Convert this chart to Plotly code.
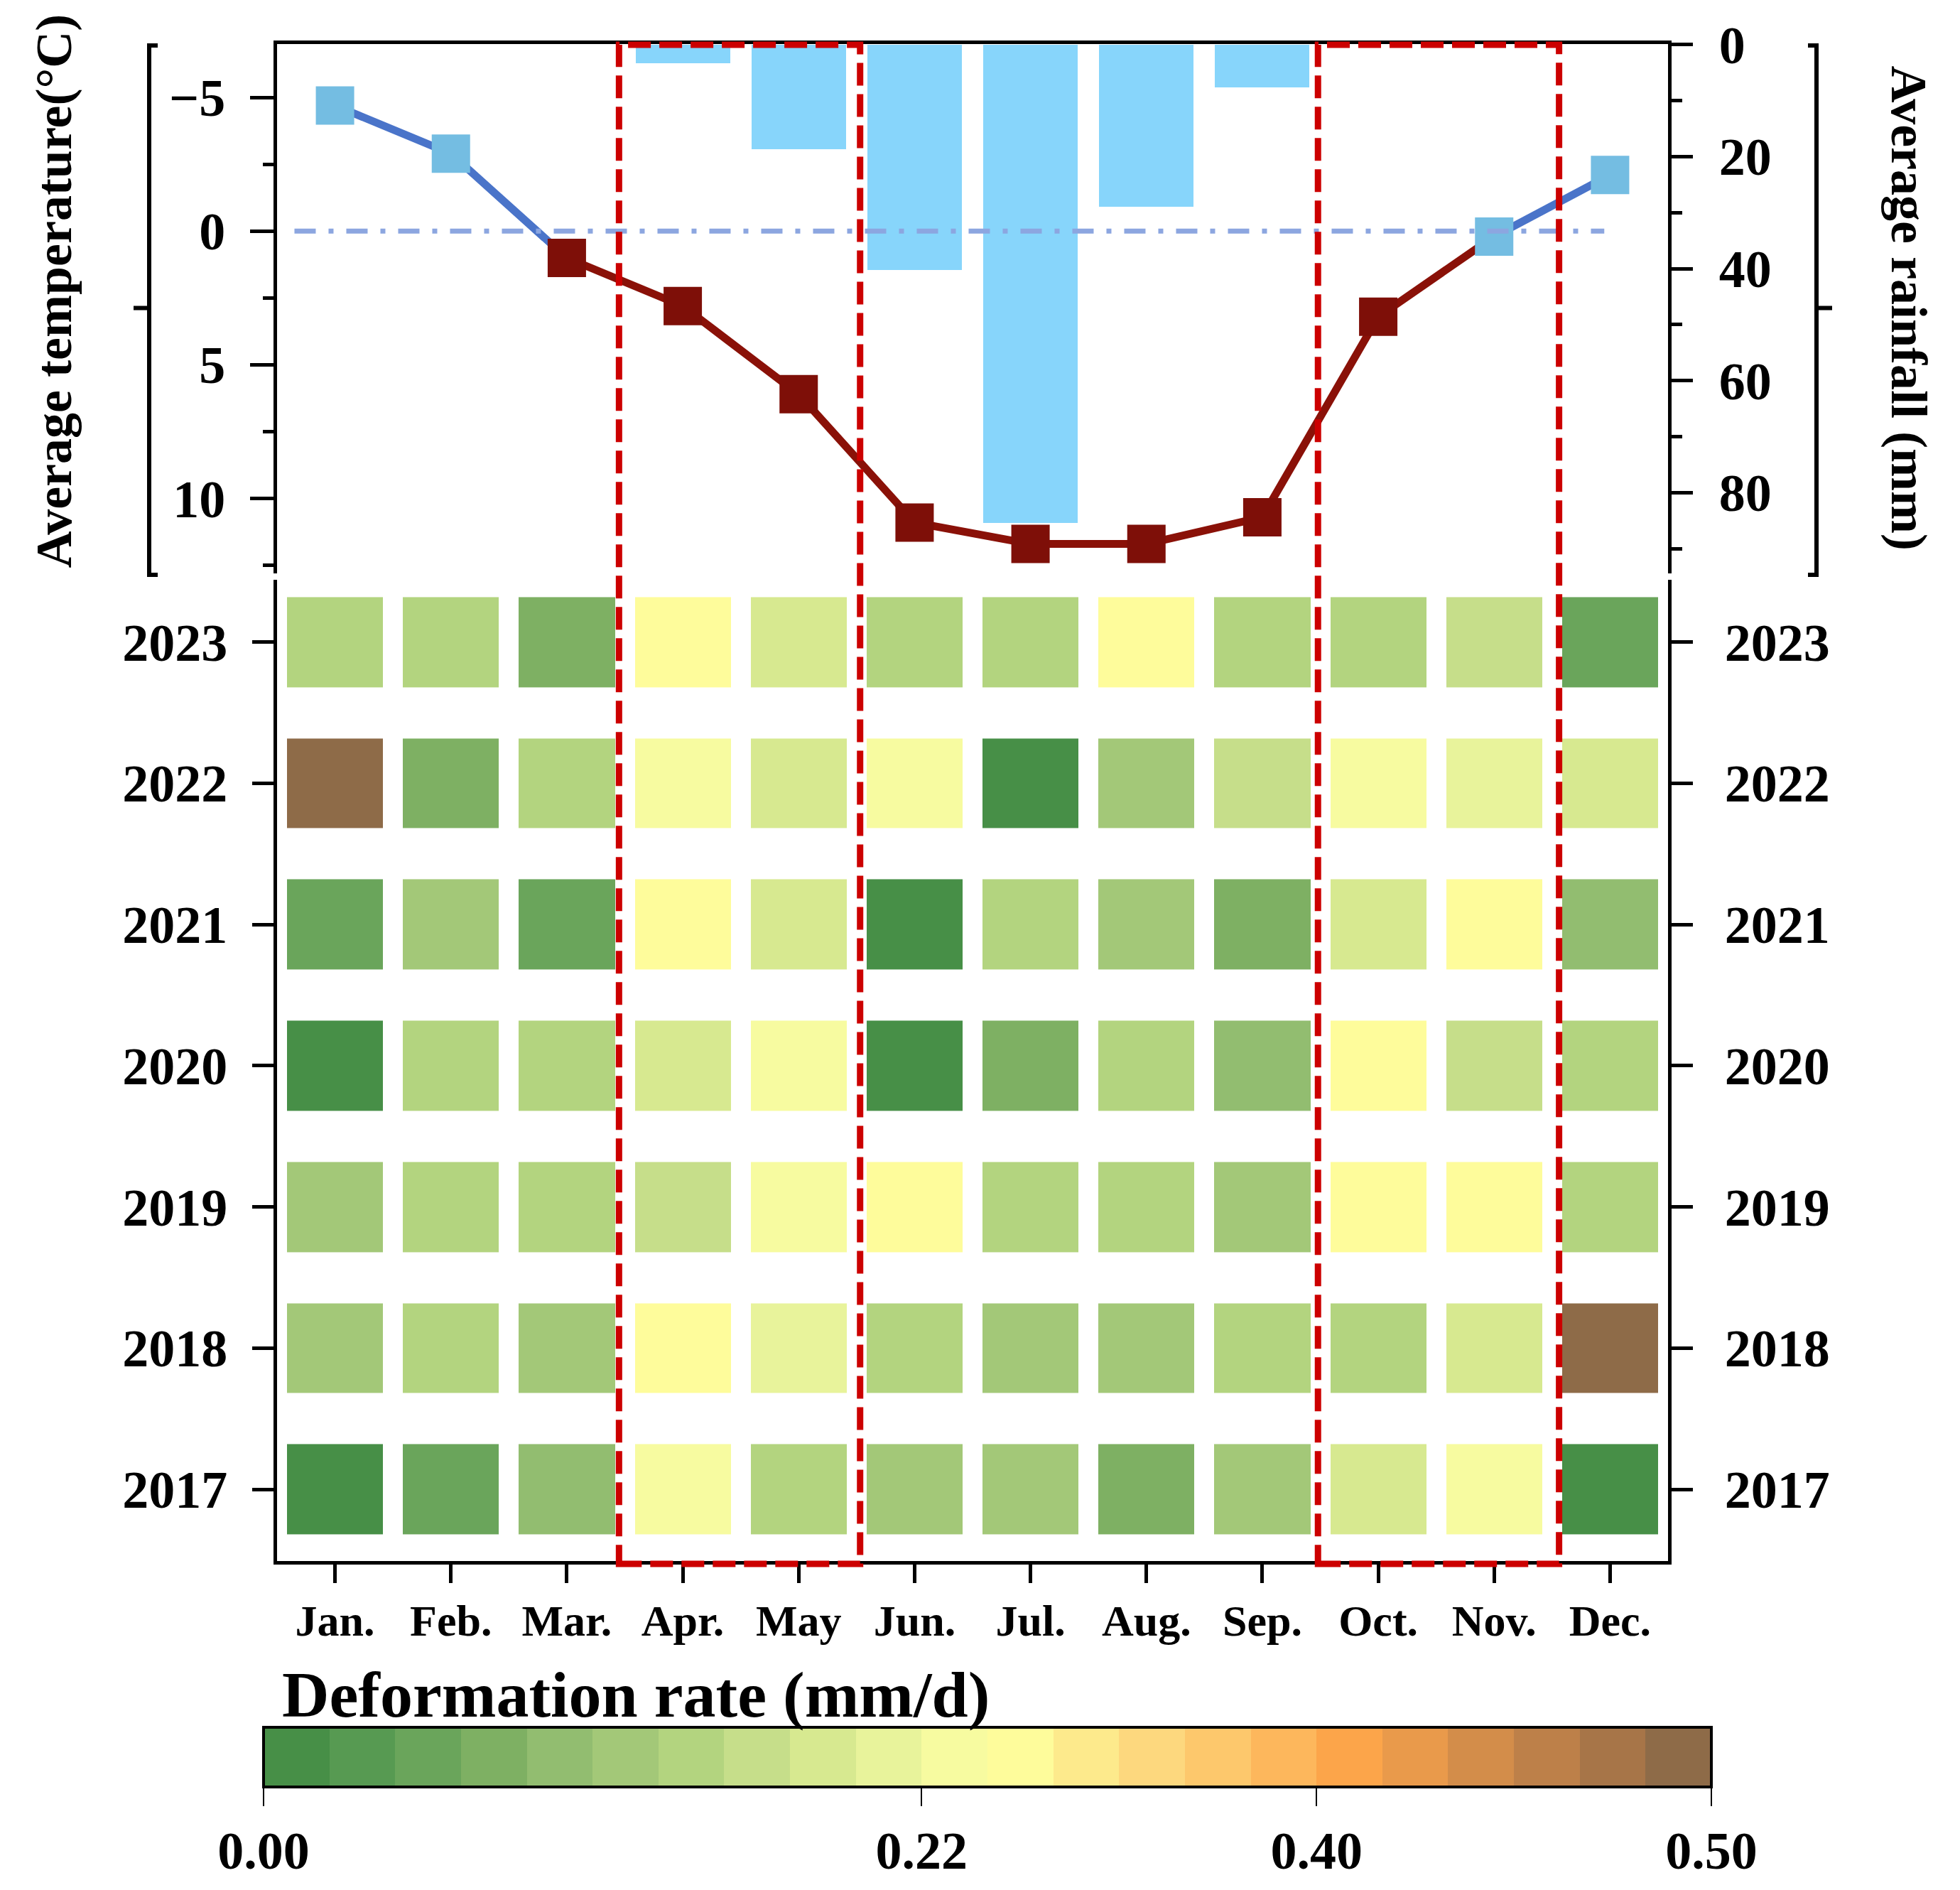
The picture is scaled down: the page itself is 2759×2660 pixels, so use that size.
import numpy as np
import plotly.graph_objects as go

# ---------------- data ----------------
months = ["Jan.", "Feb.", "Mar.", "Apr.", "May", "Jun.", "Jul.", "Aug.", "Sep.", "Oct.", "Nov.", "Dec."]
years = ["2017", "2018", "2019", "2020", "2021", "2022", "2023"]

temperature = [-4.7, -2.9, 1.0, 2.8, 6.1, 10.9, 11.7, 11.7, 10.7, 3.2, 0.2, -2.1]   # °C
rainfall = [0, 0, 0, 3.3, 18.7, 40.2, 85.4, 28.9, 7.7, 0, 0, 0]                      # mm
frozen = [True, True, False, False, False, False, False, False, False, False, True, True]

rate_2017 = [0.01, 0.05, 0.10, 0.23, 0.14, 0.12, 0.12, 0.08, 0.12, 0.19, 0.23, 0.01]
rate_2018 = [0.12, 0.14, 0.12, 0.26, 0.21, 0.14, 0.12, 0.12, 0.14, 0.14, 0.19, 0.49]
rate_2019 = [0.12, 0.14, 0.14, 0.16, 0.23, 0.26, 0.14, 0.14, 0.12, 0.26, 0.26, 0.14]
rate_2020 = [0.01, 0.14, 0.14, 0.19, 0.23, 0.01, 0.08, 0.14, 0.10, 0.26, 0.16, 0.14]
rate_2021 = [0.05, 0.12, 0.05, 0.26, 0.19, 0.01, 0.14, 0.12, 0.08, 0.19, 0.26, 0.10]
rate_2022 = [0.49, 0.08, 0.14, 0.23, 0.19, 0.23, 0.01, 0.12, 0.16, 0.23, 0.21, 0.19]
rate_2023 = [0.14, 0.14, 0.08, 0.26, 0.19, 0.14, 0.14, 0.26, 0.14, 0.14, 0.16, 0.05]

cbar_breaks = [0.00, 0.22, 0.40, 0.50]
cbar_labels = ["0.00", "0.22", "0.40", "0.50"]
band_colors = ["#478f47", "#579a52", "#6aa55b", "#7eb063", "#92bd70", "#a3c878",
               "#b3d47f", "#c6de8a", "#d7e990", "#e8f39b", "#f7fba0", "#fefc9b",
               "#fdea8c", "#fdd87e", "#fdc86c", "#fdb75c", "#fca54a", "#e99a4b",
               "#d38d4a", "#bd8049", "#a77548", "#8e6b48"]

# ---------------- layout geometry ----------------
W, H = 2759, 2660
L, R, T, B = 390, 2348, 62, 2200


def PX(x):
    return (x - L) / (R - L)


def PY(y):
    return (B - y) / (B - T)


SERIF = "Liberation Serif"
BLACK = "black"

nb = len(band_colors)
band_pos = [0, 10, 16, 22]
rates = [rate_2017, rate_2018, rate_2019, rate_2020, rate_2021, rate_2022, rate_2023]
z_idx = [list(np.interp(r, cbar_breaks, band_pos)) for r in rates]

colorscale = []
for i, c in enumerate(band_colors):
    colorscale.append([i / nb, c])
    colorscale.append([(i + 1) / nb, c])

xm = list(range(len(months)))
yr = list(range(len(years)))

fig = go.Figure()

# rainfall bars (base subplot, right axis)
fig.add_trace(go.Bar(x=xm, y=rainfall, width=0.815, marker=dict(color="#87d5fb", line=dict(width=0)),
                     xaxis="x", yaxis="y", showlegend=False))

BLUE_L, RED_L = "#4a74c9", "#8a1108"
BLUE_M, RED_M = "#74bde2", "#7e0f08"

# temperature line segments
seg_blue1 = [i for i in range(12) if i <= 2]
seg_red = [i for i in range(12) if 2 <= i <= 10]
seg_blue2 = [10, 11]
for seg, col in [(seg_red, RED_L), (seg_blue1, BLUE_L), (seg_blue2, BLUE_L)]:
    fig.add_trace(go.Scatter(x=[xm[i] for i in seg], y=[temperature[i] for i in seg], mode="lines",
                             line=dict(color=col, width=11), xaxis="x", yaxis="y2", showlegend=False))
fig.add_trace(go.Scatter(x=xm, y=temperature, mode="markers",
                         marker=dict(symbol="square", size=54,
                                     color=[BLUE_M if f else RED_M for f in frozen], line=dict(width=0)),
                         xaxis="x", yaxis="y2", showlegend=False))

# heatmap
fig.add_trace(go.Heatmap(x=xm, y=yr, z=z_idx, zmin=0, zmax=nb, colorscale=colorscale,
                         xgap=28, ygap=72, xaxis="x2", yaxis="y3",
                         colorbar=dict(orientation="h", thickness=84, len=2038, lenmode="pixels",
                                       x=PX(1390), xanchor="center", y=PY(2434), yanchor="top",
                                       xpad=0, ypad=0, outlinewidth=4, outlinecolor=BLACK,
                                       tickvals=band_pos, ticktext=cbar_labels, ticks="outside",
                                       ticklen=25, tickwidth=2, tickcolor=BLACK,
                                       tickfont=dict(family=SERIF, size=74, color=BLACK, weight="bold"))))
# dummy trace to show right-hand year axis
fig.add_trace(go.Scatter(x=[0], y=[0], mode="markers", marker=dict(opacity=0), xaxis="x2", yaxis="y4",
                         showlegend=False, hoverinfo="skip"))

tick_font = dict(family=SERIF, size=74, color=BLACK, weight="bold")
common = dict(showgrid=False, zeroline=False, showline=True, linecolor=BLACK, linewidth=5,
              ticks="outside", tickcolor=BLACK, tickwidth=5)

top_dom = [PY(808), 1.0]
heat_dom = [0.0, PY(817)]

fig.update_layout(
    width=W, height=H, margin=dict(l=L, r=W - R, t=T, b=H - B),
    paper_bgcolor="white", plot_bgcolor="white", showlegend=False, bargap=0,
    xaxis=dict(domain=[0, 1], range=[-0.5, 11.5], anchor="y", side="top", showgrid=False, zeroline=False,
               showline=True, linecolor=BLACK, linewidth=5, ticks="", showticklabels=False),
    yaxis=dict(domain=top_dom, range=[94.4, -0.1], anchor="x", side="right",
               tickvals=[0, 20, 40, 60, 80], ticklen=30, tickfont=tick_font, ticklabelstandoff=22,
               minor=dict(tickvals=[10, 30, 50, 70, 90], ticklen=15, tickwidth=5, tickcolor=BLACK, ticks="outside"),
               **common),
    yaxis2=dict(range=[12.8, -7.0], anchor="x", overlaying="y", side="left",
                tickvals=[-5, 0, 5, 10], ticklen=33, tickfont=tick_font, ticklabelstandoff=20,
                minor=dict(tickvals=[-2.5, 2.5, 7.5, 12.5], ticklen=15, tickwidth=5, tickcolor=BLACK, ticks="outside"),
                **common),
    xaxis2=dict(domain=[0, 1], range=[-0.5, 11.5], anchor="y3", tickvals=xm, ticktext=months, ticklen=26,
                tickfont=dict(family=SERIF, size=62, color=BLACK, weight="bold"), ticklabelstandoff=0, **common),
    yaxis3=dict(domain=heat_dom, range=[-0.5075, 6.442], anchor="x2", side="left", tickvals=yr, ticktext=years,
                ticklen=30, tickfont=tick_font, ticklabelstandoff=20, **common),
    yaxis4=dict(range=[-0.5075, 6.442], anchor="x2", overlaying="y3", side="right", tickvals=yr, ticktext=years,
                ticklen=30, tickfont=tick_font, ticklabelstandoff=30, **common),
)

shapes = []
# zero-temperature reference line
shapes.append(dict(type="line", xref="x", yref="y2", x0=-0.35, x1=10.95, y0=0, y1=0, layer="above",
                   line=dict(color="#8ca6e0", width=7, dash="30px,18px,7px,18px")))
# red dashed boxes
for x0, x1 in [(2.45, 4.53), (8.48, 10.56)]:
    shapes.append(dict(type="rect", xref="x2", yref="paper", x0=x0, x1=x1, y0=PY(2204), y1=PY(63),
                       layer="above", fillcolor="rgba(0,0,0,0)",
                       line=dict(color="#cc0000", width=9, dash="32px,12px")))
# brackets
lb = "M {a},{t} L {b},{t} L {b},{bt} L {a},{bt} M {b},{m} L {c},{m}".format(
    a=PX(222), b=PX(210), c=PX(188), t=PY(64), bt=PY(810), m=PY(434))
rb = "M {a},{t} L {b},{t} L {b},{bt} L {a},{bt} M {b},{m} L {c},{m}".format(
    a=PX(2545), b=PX(2557), c=PX(2579), t=PY(64), bt=PY(810), m=PY(434))
for p in [lb, rb]:
    shapes.append(dict(type="path", xref="paper", yref="paper", path=p, line=dict(color=BLACK, width=6)))
fig.update_layout(shapes=shapes)

title_font = dict(family=SERIF, size=72, color=BLACK, weight="bold")
fig.add_annotation(text="Average temperature(°C)", xref="paper", yref="paper", x=PX(76), y=PY(410),
                   textangle=-90, showarrow=False, xanchor="center", yanchor="middle", font=title_font)
fig.add_annotation(text="Average rainfall (mm)", xref="paper", yref="paper", x=PX(2687), y=PY(434),
                   textangle=90, showarrow=False, xanchor="center", yanchor="middle", font=title_font)
fig.add_annotation(text="Deformation rate (mm/d)", xref="paper", yref="paper", x=PX(395), y=PY(2388),
                   showarrow=False, xanchor="left", yanchor="middle",
                   font=dict(family=SERIF, size=92, color=BLACK, weight="bold"))

fig.write_html("out.html")
